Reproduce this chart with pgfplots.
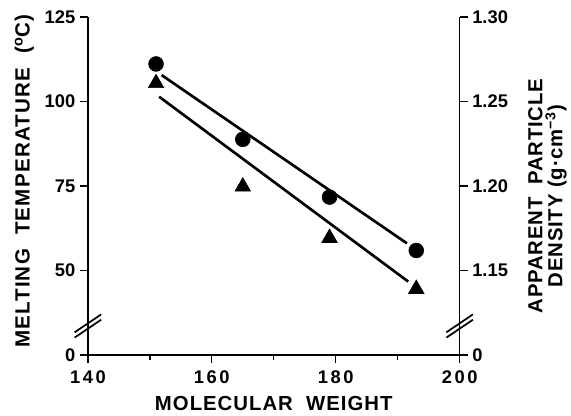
\documentclass[border=0pt]{standalone}
\usepackage{fontspec}
\setmainfont{Liberation Sans}
\usepackage{pgfplots}
\pgfplotsset{compat=1.18}
\begin{document}
\begin{tikzpicture}
\pgfplotsset{
  common/.style={
    scale only axis, width=280pt, height=254.5pt,
    xmin=140, xmax=200, ymin=25, ymax=125,
    tick align=outside, major tick length=6pt, minor tick length=3.5pt,
    every tick/.style={line width=1pt, black},
    axis line style={line width=1pt},
    ytick={25,50,75,100,125},
    every tick label/.append style={font=\fontsize{13.8}{15}\selectfont\bfseries},
    clip=false,
  }
}
\begin{axis}[common,
  axis y line*=left, axis x line*=bottom,
  xtick={140,160,180,200}, minor xtick={150,170,190},
  xticklabels={140,160,180,200},
  xticklabel style={font=\fontsize{13.8}{15}\selectfont\bfseries\addfontfeature{LetterSpace=14}, yshift=-2.5pt},
  yticklabels={0,50,75,100,125},
  xlabel={MOLECULAR\ \ WEIGHT},
  xlabel style={font=\fontsize{15.3}{17}\selectfont\bfseries\addfontfeature{LetterSpace=5}, at={(axis description cs:0.5,-0.145)}, anchor=center},
  ylabel={MELTING\ \ TEMPERATURE\ \ (\textsuperscript{o}C)},
  ylabel style={font=\fontsize{15.5}{17}\selectfont\bfseries\addfontfeature{LetterSpace=6}, at={(axis description cs:-0.171,0.515)}, anchor=center},
]
\addplot[only marks, mark=*, mark size=5.6pt, black] coordinates {
  (151,111.1) (165,88.8) (179,71.7) (193,55.9)
};
\addplot[only marks, mark=triangle*, mark size=6.8pt, black] coordinates {
  (151,105.4) (165,74.8) (179,59.6) (193,44.5)
};
\addplot[no marks, line width=2pt, black] coordinates {(151.9,107.8) (191.5,58.0)};
\addplot[no marks, line width=2pt, black] coordinates {(151.5,101.4) (191.7,46.7)};
\draw[line width=1.3pt] ([xshift=-10pt,yshift=17pt]axis cs:140,25) -- ([xshift=10pt,yshift=30.5pt]axis cs:140,25);
\draw[line width=1.3pt] ([xshift=-10pt,yshift=13pt]axis cs:140,25) -- ([xshift=10pt,yshift=26.5pt]axis cs:140,25);
\draw[line width=1.3pt] ([xshift=-10pt,yshift=17pt]axis cs:200,25) -- ([xshift=10pt,yshift=30.5pt]axis cs:200,25);
\draw[line width=1.3pt] ([xshift=-10pt,yshift=13pt]axis cs:200,25) -- ([xshift=10pt,yshift=26.5pt]axis cs:200,25);
\path ([xshift=-66.2pt,yshift=12.8pt]axis cs:140,125);
\path ([xshift=83.5pt,yshift=-44pt]axis cs:200,25);
\end{axis}
\begin{axis}[common,
  axis y line*=right, axis x line=none,
  yticklabels={0,1.15,1.20,1.25,1.30},
  ylabel={APPARENT\ \ PARTICLE\\DENSITY (g·cm\textsuperscript{−3})},
  ylabel style={font=\fontsize{15.3}{15}\selectfont\bfseries\addfontfeature{LetterSpace=4}, align=center, at={(axis description cs:1.236,0.47)}, anchor=center},
]
\end{axis}
\end{tikzpicture}
\end{document}
